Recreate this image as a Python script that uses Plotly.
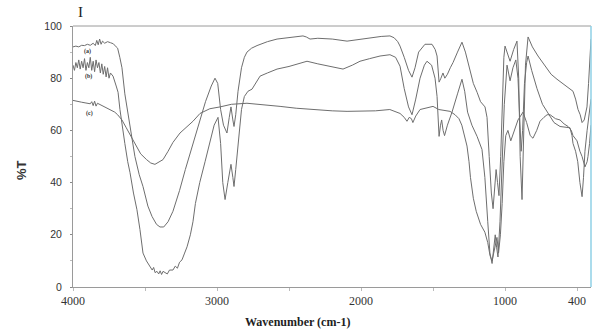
import plotly.graph_objects as go

# ---- data (wavenumber cm-1, %T) ----
wn_a = [4000,3980,3960,3940,3920,3900,3880,3860,3845,3835,3825,3815,3805,3795,3780,3760,3740,3720,3700,3690,
        3675,3660,3640,3610,3600,3570,3540,3514,3480,3451,3420,3396,3370,3340,3306,3260,3220,3167,3120,3080,
        3040,3014,2995,2975,2955,2931,2915,2903,2890,2882,2870,2854,2830,2810,2792,2760,2722,2650,2583,2500,
        2403,2380,2354,2300,2200,2097,2000,1937,1860,1799,1770,1745,1729,1700,1670,1646,1625,1600,1556,1507,
        1485,1472,1458,1445,1431,1418,1400,1380,1361,1330,1299,1275,1243,1220,1194,1170,1139,1125,1110,1095,
        1083,1070,1062,1052,1042,1030,1018,1008,1000,985,965,940,917,905,895,882,870,858,840,810,
        771,740,708,680,639,600,569,545,528,510,493,478,465,450,431,420,410,403]
t_a = [92.0,92.3,92.0,92.6,92.5,93.0,92.6,93.4,92.5,94.5,92.8,95.0,93.0,94.2,93.4,94.0,93.6,93.2,92.0,91.5,
       88,84,74,64,60,50,43,38.5,31,27,24,23,23,25,29,37,45,55,64,71,
       77,80,78,68,62,59,65,69,64,61.5,66,75,84,88,90,91.5,92.5,94,95,95.6,
       96.2,95.8,95,95.3,95,94.2,95,95.4,96,96.2,95.5,94,92.3,88,83,80.4,84,90,93,93,
       91,88.5,78.5,80,82,80,81.5,84,86,90,93.8,90,83.5,78,74.6,71,69,65,50,36,
       30,40,45,40,35,50,72,88,92.3,90,86.5,91,94.2,80,50,33.5,55,85,95.8,92,
       88.5,86,83.5,81.5,79.6,78,77,76,75,72,68,66,63,64,69,78,88,95]

wn_b = [4000,3990,3980,3970,3960,3950,3940,3930,3920,3910,3900,3890,3880,3870,3860,3850,3840,3830,3820,3810,
        3800,3790,3780,3770,3760,3750,3740,3722,3700,3687,3674,3660,3640,3620,3604,3580,3556,3535,3514,3490,
        3465,3450,3440,3430,3417,3405,3395,3385,3375,3361,3345,3330,3306,3290,3275,3260,3243,3225,3208,3185,
        3167,3150,3120,3083,3050,3020,2993,2975,2960,2944,2925,2903,2890,2882,2870,2850,2830,2810,2785,2757,
        2730,2701,2650,2583,2500,2440,2375,2300,2200,2125,2060,2007,1940,1868,1799,1760,1729,1700,1670,1646,
        1620,1590,1560,1542,1510,1486,1472,1458,1448,1440,1430,1420,1400,1368,1330,1299,1280,1260,1230,1194,
        1160,1140,1120,1105,1090,1078,1068,1058,1049,1035,1020,1005,986,975,965,945,925,910,898,888,
        878,865,850,840,815,778,740,708,660,618,570,549,535,528,510,495,480,465,455,445,
        430,418,403]
t_b = [85,83,86,84,87,83.5,86.5,84,87.5,83,86,84,88,83,86.5,82.5,87,84,86,82,
       85.5,81.5,84.5,80.5,84,80,82,80.8,77,74.6,68,62,55,48,43.8,36,29.6,22,13,10,
       7.7,6.5,7.5,5.5,6,5,6.2,4.8,6,5.4,5,6.5,6.5,8,7.2,9.5,10.4,13,15.4,20,
       25,32,40,48,55,62,65,55,40,33.5,40,47,42,38.5,45,58,68,73,75,75.8,
       78,80.8,82,83.5,84.5,85.5,86.5,85.5,84.5,83.5,85,86.5,87.5,88.5,89,88,84.6,76,69,66,
       72,80,85,86.5,85,80,73,57.7,62,64,60,58,62,67,74,79.6,75,67,62,57.7,
       52.7,42,25,13,9,15,20,15,11.5,25,45,70,85,82,79,84,87,80,62,52,
       60,78,86,88.5,83,76,70,67,63,61.5,61,61,58,55,52,48,40,34.6,42,52,
       60,66,72]

wn_c = [4000,3970,3940,3910,3880,3870,3860,3850,3840,3830,3800,3770,3743,3710,3690,3660,3630,3600,3569,3530,
        3489,3460,3431,3400,3375,3340,3306,3257,3236,3200,3167,3118,3050,2979,2900,2792,2700,2562,2450,2333,
        2200,2097,1900,1800,1729,1700,1681,1665,1650,1640,1620,1590,1540,1500,1460,1420,1382,1347,1320,1300,
        1280,1264,1250,1240,1220,1200,1170,1140,1120,1104,1090,1078,1068,1056,1045,1032,1020,1008,995,980,
        960,940,910,875,850,825,806,780,757,730,708,687,650,618,590,562,540,528,500,480,
        465,445,430,424,413,403]
t_c = [71.5,71,70.8,70.5,70.2,71,69.5,71.2,69.3,70.4,69.5,68.8,68,67,66,64,61,58,54.6,51,
       48.8,47.5,47,48,48.8,52,55.4,59,60,62,63.5,66.5,68.3,69,70,70.4,70,69.2,68.5,68,
       67.5,67.3,67.5,68,66.5,65,63.5,65,64.5,63,65.5,68,68.8,69.2,68,67.6,67.3,66,64.5,62,
       58,54,48,42,34,29,24,21,17,12,10,13,16,19,13,20,32,48,58,60,
       56,59,64,67,63,58,57,60,63.5,65,66,66,64.5,64,62.5,61.5,60,58,56,52,
       50,46,48,50,55,62]

series = [("(a)", wn_a, t_a), ("(b)", wn_b, t_b), ("(c)", wn_c, t_c)]
label_pos = {"(a)": (3896, 90.3), "(b)": (3889, 80.6), "(c)": (3882, 66.6)}

x_tick_vals = [4000, 3000, 2000, 1000, 500]
x_tick_text = ["4000", "3000", "2000", "1000", "400"]
x_minor_vals = [3500, 2500, 1500]
y_tick_vals = [0, 20, 40, 60, 80, 100]
y_minor_vals = [10, 30, 50, 70, 90]

line_col = "#6e6e6e"

fig = go.Figure()
for name, xs, ys in series:
    fig.add_trace(go.Scatter(x=xs, y=ys, mode="lines", name=name,
                             line=dict(color=line_col, width=1), showlegend=False))

for name, (lx, ly) in label_pos.items():
    fig.add_annotation(x=lx, y=ly, text=f"<b>{name}</b>", showarrow=False,
                       xanchor="center", yanchor="middle",
                       font=dict(family="Liberation Serif", size=6, color="#333333"))

fig.add_annotation(xref="paper", yref="paper", x=0.0145, y=1.054, text="I", showarrow=False,
                   xanchor="center", yanchor="middle",
                   font=dict(family="Liberation Serif", size=15, color="#222222"))
fig.add_annotation(xref="paper", yref="paper", x=-0.1004, y=0.448, text="<b>%T</b>", textangle=-90,
                   xanchor="center", yanchor="middle",
                   showarrow=False, font=dict(family="Liberation Sans", size=13, color="#333333"))
fig.add_annotation(xref="paper", yref="paper", x=0.434, y=-0.134, text="<b>Wavenumber (cm-1)</b>",
                   xanchor="center", yanchor="middle",
                   showarrow=False, font=dict(family="Liberation Serif", size=12, color="#222222"))

# top frame line and light blue right edge
fig.add_shape(type="line", xref="paper", yref="paper", x0=0, x1=1, y0=1, y1=1,
              line=dict(color="#9a9a9a", width=1))
fig.add_shape(type="line", xref="paper", yref="paper", x0=1, x1=1, y0=0, y1=1,
              line=dict(color="#8fd0e6", width=1.5))

fig.update_layout(
    width=597, height=333,
    margin=dict(l=73, r=6, t=26, b=46),
    paper_bgcolor="white", plot_bgcolor="white",
    xaxis=dict(range=[4000, 403], showgrid=False, zeroline=False,
               showline=True, linecolor="#9a9a9a", linewidth=1,
               tickvals=x_tick_vals, ticktext=x_tick_text,
               ticks="outside", ticklen=3, tickcolor="#bbbbbb",
               minor=dict(tickvals=x_minor_vals, ticks="outside", ticklen=3, tickcolor="#bbbbbb"),
               tickfont=dict(family="Liberation Serif", size=12, color="#333333")),
    yaxis=dict(range=[0, 100], showgrid=False, zeroline=False,
               showline=True, linecolor="#9a9a9a", linewidth=1,
               tickvals=y_tick_vals, ticks="outside", ticklen=2, tickcolor="#888888",
               minor=dict(tickvals=y_minor_vals, ticks="outside", ticklen=2, tickcolor="#bbbbbb"),
               ticklabelstandoff=6,
               tickfont=dict(family="Liberation Sans", size=10.5, color="#333333")),
)

fig.write_html("out.html")
